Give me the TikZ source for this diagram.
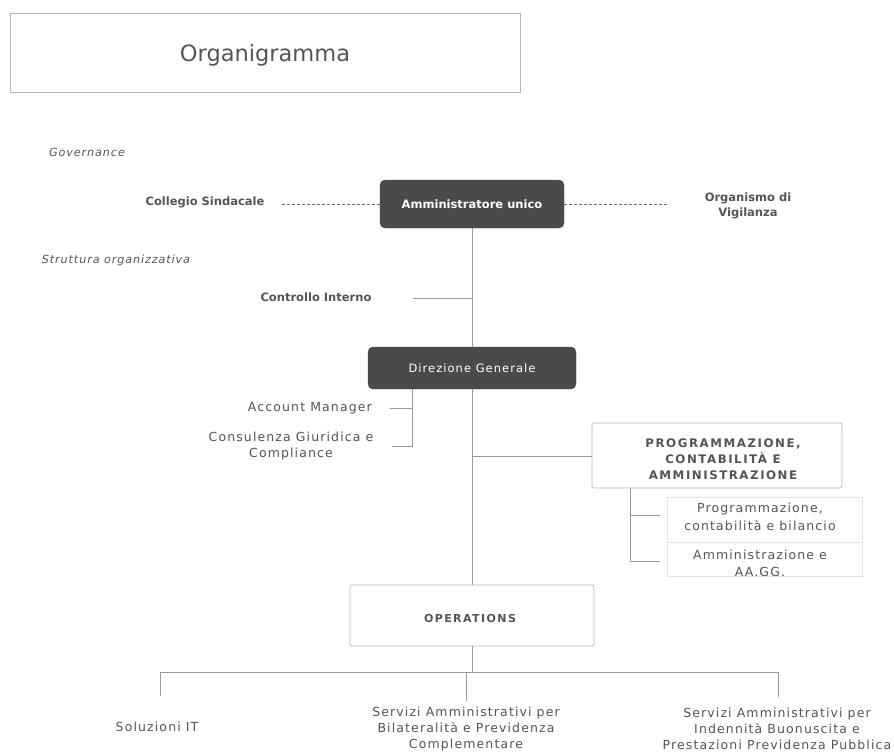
\documentclass[tikz,border=0pt]{standalone}
\usepackage{fontspec}
\setmainfont{DejaVu Sans}
\newfontfamily\spacedfont[LetterSpace=9]{DejaVu Sans}
\newfontfamily\capsfont[LetterSpace=13]{DejaVu Sans}
\newfontfamily\itfont[LetterSpace=8]{DejaVu Sans}
\begin{document}
\begin{tikzpicture}[x=1pt,y=-1pt,
  txt/.style={text=textgray, font=\spacedfont\fontsize{12.5}{16}\selectfont, align=center, inner sep=1pt},
  btxt/.style={txt, font=\fontsize{11.5}{15}\selectfont\bfseries},
  itxt/.style={txt, font=\itfont\fontsize{11.2}{13}\selectfont\itshape},
  darkbox/.style={draw=darkfill, fill=darkfill, rounded corners=5pt, text=white, inner sep=0pt},
  lightbox/.style={draw=boxgray, line width=0.7pt, rounded corners=2pt, inner sep=0pt},
  faintbox/.style={draw=faintgray, line width=0.5pt, inner sep=0pt},
  link/.style={draw=linegray, line width=0.8pt},
  dlink/.style={draw=dashgray, line width=0.9pt, dash pattern=on 3pt off 2pt}
]
\definecolor{textgray}{HTML}{555555}
\definecolor{darkfill}{HTML}{4A4A4A}
\definecolor{boxgray}{HTML}{B8B8B8}
\definecolor{faintgray}{HTML}{E4E4E4}
\definecolor{linegray}{HTML}{9A9A9A}
\definecolor{dashgray}{HTML}{6A6A6A}
\useasboundingbox[fill=white] (0,0) rectangle (894,755);

% title
\node[draw=boxgray, line width=0.9pt, minimum width=510pt, minimum height=79pt, inner sep=0pt] (titlebox) at (265,52.5) {};
\node[text=textgray, font=\fontsize{22.5}{26}\selectfont] (title) at (265,55) {Organigramma};

% governance
\node[itxt] (gov) at (87,152) {Governance};
\node[btxt] (coll) at (205,202) {Collegio Sindacale};
\node[darkbox, minimum width=184pt, minimum height=48pt, font=\fontsize{11.5}{14}\selectfont\bfseries] (amm) at (472,204) {Amministratore unico};
\node[btxt] (org) at (748,206) {Organismo di\\Vigilanza};
\draw[dlink] ([xshift=16pt]coll.east |- amm.west) -- (amm.west);
\draw[dlink] (amm.east) -- (667,204);

% struttura
\node[itxt] (strutt) at (116,260) {Struttura organizzativa};
\node[btxt] (ctrl) at (316,297) {Controllo Interno};
\node[darkbox, minimum width=208pt, minimum height=42pt, font=\spacedfont\fontsize{11.5}{14}\selectfont] (dir) at (472,368) {Direzione Generale};
\draw[link] (amm.south) -- (dir.north);
\coordinate (ctrlend) at (413,298);
\draw[link] (ctrlend) -- (ctrlend -| amm.south);

% staff of direzione
\node[txt, anchor=east] (acc) at (373,408) {Account Manager};
\node[txt] (cons) at (291,446) {Consulenza Giuridica e\\Compliance};
\coordinate (st0) at (412,389);
\coordinate (st1) at (412,408);
\coordinate (st2) at (412,446);
\coordinate (acce) at (390,408);
\coordinate (conse) at (392,446);
\draw[link] (st0) -- (st2) -- (conse);
\draw[link] (st1) -- (acce);

% programmazione
\node[lightbox, minimum width=250pt, minimum height=65pt] (prog) at (717,455.5) {};
\node[btxt, font=\capsfont\fontsize{11.8}{16}\selectfont\bfseries] (progt) at (723,459) {PROGRAMMAZIONE,\\CONTABILITÀ E\\AMMINISTRAZIONE};
\node[faintbox, minimum width=195pt, minimum height=45pt] (sub1) at (764.5,519.5) {};
\node[txt, font=\spacedfont\fontsize{12.5}{18}\selectfont] (sub1t) at (760,517) {Programmazione,\\contabilità e bilancio};
\node[faintbox, minimum width=195pt, minimum height=34pt] (sub2) at (764.5,559) {};
\node[txt, font=\spacedfont\fontsize{12.5}{17}\selectfont] (sub2t) at (760,563) {Amministrazione e\\AA.GG.};
\coordinate (pb0) at (630,488);
\coordinate (pb1) at (630,515);
\coordinate (pb2) at (630,561);
\draw[link] (pb0) -- (pb2) -- (660,561);
\draw[link] (pb1) -- (660,515);

% operations
\node[lightbox, minimum width=244pt, minimum height=61pt] (ops) at (472,615.5) {};
\node[btxt, font=\capsfont\fontsize{11}{13}\selectfont\bfseries] (opst) at (470,618) {OPERATIONS};
\draw[link] (dir.south) -- (ops.north);
\coordinate (pbr) at (472,456);
\draw[link] (pbr) -- (pbr -| prog.west);

% bottom units
\node[txt] (sol) at (157,727) {Soluzioni IT};
\node[txt] (sba) at (466,729) {Servizi Amministrativi per\\Bilateralità e Previdenza\\Complementare};
\node[txt] (sip) at (777,729) {Servizi Amministrativi per\\Indennità Buonuscita e\\Prestazioni Previdenza Pubblica};
\coordinate (hb) at (472,672);
\coordinate (hl) at (160,672);
\coordinate (hr) at (778,672);
\draw[link] (ops.south) -- (hb);
\draw[link] (hl) -- (hr);
\draw[link] (hl) -- (160,696);
\draw[link] (466,672) -- (466,701);
\draw[link] (hr) -- (778,697);
\end{tikzpicture}
\end{document}
